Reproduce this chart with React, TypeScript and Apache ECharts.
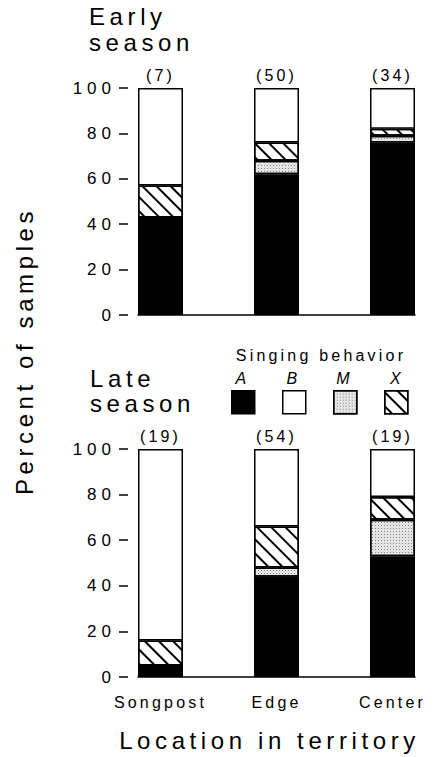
import React, { useEffect, useRef } from 'react';
import * as echarts from 'echarts';

const categories = ['Songpost', 'Edge', 'Center'];
const behaviors = ['A', 'B', 'M', 'X'];
const yTicks = [0, 20, 40, 60, 80, 100];

const earlyCounts = [7, 50, 34];
const earlyA = [43, 62, 76];
const earlyM = [0, 6, 3];
const earlyX = [14, 8, 3];
const earlyB = [43, 24, 18];

const lateCounts = [19, 54, 19];
const lateA = [5, 44, 53];
const lateM = [0, 4, 16];
const lateX = [11, 18, 10];
const lateB = [84, 34, 21];

const FONT = "'Liberation Sans', Arial, Helvetica, sans-serif";

const styleFor: Record<string, any> = {
  A: { color: '#000' },
  B: { color: '#fff' },
  M: {
    color: '#e4e4e4',
    decal: { symbol: 'rect', symbolSize: 1, dashArrayX: [1, 2], dashArrayY: [1, 2], color: '#8a8a8a', rotation: 0 },
  },
  X: {
    color: '#fff',
    decal: { symbol: 'rect', symbolSize: 1, dashArrayX: [1, 0], dashArrayY: [1.5, 7.5], rotation: Math.PI / 4, color: '#000' },
  },
};

function makeSeries(gi: number, A: number[], M: number[], X: number[], B: number[], counts: number[]) {
  const order: [string, number[]][] = [['A', A], ['M', M], ['X', X], ['B', B]];
  return order.map(([name, vals]) => ({
    type: 'bar',
    name,
    stack: 'g' + gi,
    xAxisIndex: gi,
    yAxisIndex: gi,
    barWidth: 45,
    clip: false,
    data: vals,
    itemStyle: { ...styleFor[name], borderColor: '#000', borderWidth: 1.5 },
    label:
      name === 'B'
        ? {
            show: true,
            position: 'top',
            distance: 5,
            formatter: (p: any) => `(${counts[p.dataIndex]})`,
            fontSize: 16,
            color: '#000',
            fontFamily: FONT,
          }
        : { show: false },
  }));
}

export default function App() {
  const ref = useRef<HTMLDivElement>(null);
  useEffect(() => {
    const el = ref.current!;
    const chart = echarts.init(el, undefined, { renderer: 'svg' });
    const tops = [88, 449];
    const heights = [227, 228];
    // bar grids: category points (boundaryGap false) at the bar centres
    const barGrids = tops.map((t, i) => ({ left: 160.5, width: 232, top: t, height: heights[i] }));
    // frame grids: baseline + y axis spanning from first bar's left edge to last bar's right edge
    const frameGrids = tops.map((t, i) => ({ left: 138, width: 277, top: t, height: heights[i] }));
    const xAxes = [
      ...barGrids.map((_, gi) => ({
        type: 'category',
        gridIndex: gi,
        data: categories,
        boundaryGap: false,
        axisLine: { show: false },
        axisTick: { show: false },
        axisLabel: {
          show: gi === 1,
          fontSize: 16,
          color: '#000',
          margin: 17,
          fontFamily: FONT,
        },
      })),
      ...frameGrids.map((_, gi) => ({
        type: 'value',
        gridIndex: gi + 2,
        min: 0,
        max: 1,
        axisLine: { show: true, onZero: false, lineStyle: { color: '#000', width: 1.5 } },
        axisTick: { show: false },
        axisLabel: { show: false },
        splitLine: { show: false },
        name: gi === 1 ? 'Location in territory' : '',
        nameLocation: 'middle',
        nameGap: 51,
        nameTextStyle: { fontSize: 24, color: '#000', fontFamily: FONT, padding: [0, 14, 0, 0] },
      })),
    ];
    const yAxes = [
      ...barGrids.map((_, gi) => ({
        type: 'value',
        gridIndex: gi,
        min: yTicks[0],
        max: yTicks[yTicks.length - 1],
        interval: 20,
        show: false,
      })),
      ...frameGrids.map((_, gi) => ({
        type: 'value',
        gridIndex: gi + 2,
        min: yTicks[0],
        max: yTicks[yTicks.length - 1],
        interval: 20,
        offset: 10,
        axisLine: { show: false, onZero: false },
        axisTick: { show: true, length: 9, lineStyle: { color: '#000', width: 1.5 } },
        splitLine: { show: false },
        axisLabel: { fontSize: 17, color: '#000', margin: 12, fontFamily: FONT },
      })),
    ];
    const legendX = [242.5, 293.5, 344.5, 397];
    chart.setOption({
      animation: false,
      textStyle: { fontFamily: FONT },
      grid: [...barGrids, ...frameGrids],
      xAxis: xAxes,
      yAxis: yAxes,
      legend: {
        data: behaviors,
        left: 231,
        top: 390,
        padding: 0,
        icon: 'rect',
        itemWidth: 23,
        itemHeight: 23,
        itemGap: 26.5,
        selectedMode: false,
        formatter: () => '',
        itemStyle: { borderColor: '#000', borderWidth: 1.5 },
      },
      series: [
        ...makeSeries(0, earlyA, earlyM, earlyX, earlyB, earlyCounts),
        ...makeSeries(1, lateA, lateM, lateX, lateB, lateCounts),
      ],
      graphic: [
        {
          type: 'text',
          left: 89,
          top: 3,
          style: { text: 'Early\nseason', fontSize: 24, lineHeight: 26, fill: '#000', fontFamily: FONT },
        },
        {
          type: 'text',
          left: 90,
          top: 366,
          style: { text: 'Late\nseason', fontSize: 24, lineHeight: 25, fill: '#000', fontFamily: FONT },
        },
        {
          type: 'text',
          x: 321,
          y: 355,
          style: {
            text: 'Singing behavior',
            fontSize: 16,
            fill: '#000',
            align: 'center',
            verticalAlign: 'middle',
            fontFamily: FONT,
          },
        },
        ...behaviors.map((b, i) => ({
          type: 'text',
          x: legendX[i],
          y: 378,
          style: {
            text: b,
            fontSize: 16,
            fontStyle: 'italic',
            fill: '#000',
            align: 'center',
            verticalAlign: 'middle',
            fontFamily: FONT,
          },
        })),
        {
          type: 'text',
          x: 24,
          y: 351,
          rotation: Math.PI / 2,
          style: {
            text: 'Percent of samples',
            fontSize: 24,
            fill: '#000',
            align: 'center',
            verticalAlign: 'middle',
            fontFamily: FONT,
          },
        },
      ],
    });
    const applySpacing = () => {
      el.querySelectorAll('text').forEach((t) => {
        const fs = parseFloat(getComputedStyle(t).fontSize) || 12;
        const txt = t.textContent || '';
        let ls = 3.2;
        if (fs >= 22) ls = 4.6;
        else if (/^\d+$/.test(txt)) ls = 5;
        (t as SVGTextElement).style.letterSpacing = ls + 'px';
      });
    };
    applySpacing();
    chart.on('finished', applySpacing);
    return () => chart.dispose();
  }, []);
  return <div ref={ref} style={{ position: 'fixed', left: 0, top: 0, width: 434, height: 757, background: '#fff' }} />;
}
